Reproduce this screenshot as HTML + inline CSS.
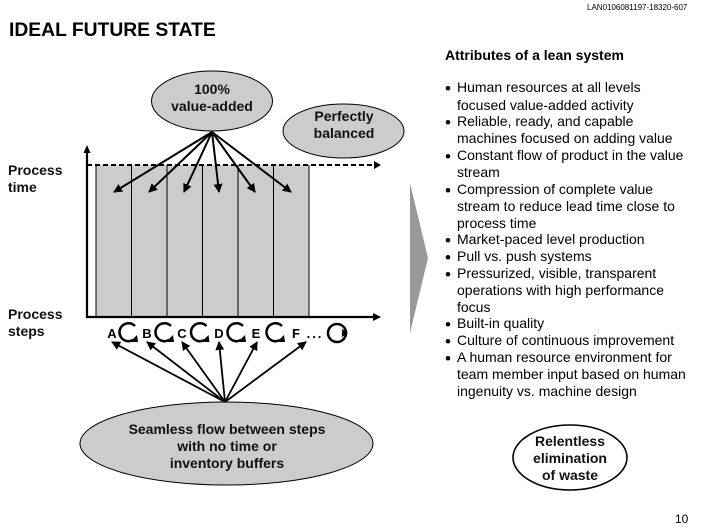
<!DOCTYPE html>
<html>
<head>
<meta charset="utf-8">
<style>
html,body{margin:0;padding:0;background:#fff}
svg{display:block}
text{font-family:"Liberation Sans",Arial,sans-serif;fill:#000}
.b{font-size:14px}
.d{font-size:17px}
.p{font-size:14px;font-weight:bold;fill:#111}
.h{font-size:14px;font-weight:bold}
.l{font-size:14px;font-weight:bold;text-anchor:middle;fill:#111}
.s{font-size:13px;font-weight:bold;text-anchor:middle}
</style>
</head>
<body>
<svg width="706" height="529" viewBox="0 0 706 529" xmlns="http://www.w3.org/2000/svg">
<defs>
<marker id="ar" markerWidth="9" markerHeight="9" refX="8" refY="4.5" orient="auto" markerUnits="userSpaceOnUse"><path d="M0 0L9 4.5L0 9Z"/></marker>
</defs>
<text x="587" y="10" style="font-size:8px">LAN0106081197-18320-607</text>
<text x="9" y="36" style="font-size:19.3px;font-weight:bold">IDEAL FUTURE STATE</text>
<text x="445" y="60" class="h">Attributes of a lean system</text>

<rect x="96" y="165" width="213" height="151" fill="#ccc"/>
<g stroke="#000" stroke-width="1">
<line x1="96" y1="165" x2="96" y2="316"/>
<line x1="131.5" y1="165" x2="131.5" y2="316"/>
<line x1="167" y1="165" x2="167" y2="316"/>
<line x1="202.5" y1="165" x2="202.5" y2="316"/>
<line x1="238" y1="165" x2="238" y2="316"/>
<line x1="273.5" y1="165" x2="273.5" y2="316"/>
<line x1="309" y1="165" x2="309" y2="316"/>
</g>
<line x1="87" y1="318" x2="87" y2="150" stroke="#000" stroke-width="2.200"/>
<path d="M83.500 153L87 145L90.500 153Z"/>
<line x1="86" y1="317" x2="375" y2="317" stroke="#000" stroke-width="2.200"/>
<path d="M373 313L381 317L373 321Z"/>
<line x1="87" y1="165" x2="375" y2="165" stroke="#000" stroke-width="2" stroke-dasharray="5 3"/>
<path d="M374 161L381 165L374 169Z"/>

<ellipse cx="212" cy="101" rx="60.500" ry="30" fill="#ccc" stroke="#000"/>
<ellipse cx="343.500" cy="131" rx="60.500" ry="27" fill="#ccc" stroke="#000"/>
<text x="212" y="94" class="l">100%</text>
<text x="212" y="111" class="l">value-added</text>
<text x="344" y="121" class="l">Perfectly</text>
<text x="344" y="138" class="l">balanced</text>

<text x="8" y="175" class="p">Process</text>
<text x="8" y="192" class="p">time</text>
<text x="8" y="319" class="p">Process</text>
<text x="8" y="336" class="p">steps</text>

<g stroke="#000" stroke-width="2" marker-end="url(#ar)">
<line x1="212" y1="132" x2="114" y2="192"/>
<line x1="212" y1="132" x2="149" y2="192"/>
<line x1="212" y1="132" x2="184" y2="192"/>
<line x1="212" y1="132" x2="219" y2="192"/>
<line x1="212" y1="132" x2="255" y2="192"/>
<line x1="212" y1="132" x2="291" y2="192"/>
</g>

<text x="112" y="338" class="s">A</text>
<text x="147" y="338" class="s">B</text>
<text x="182" y="338" class="s">C</text>
<text x="219" y="338" class="s">D</text>
<text x="256" y="338" class="s">E</text>
<text x="296" y="338" class="s">F</text>
<text x="315" y="338" class="s" style="letter-spacing:2px">...</text>

<g fill="none" stroke="#000" stroke-width="2.500">
<path d="M135 326A9 9 0 1 0 133 340"/>
<path d="M171 326A9 9 0 1 0 169 340"/>
<path d="M206.500 326A9 9 0 1 0 204.500 340"/>
<path d="M243 326A9 9 0 1 0 241 340"/>
<path d="M282 326A9 9 0 1 0 280 340"/>
<circle cx="337" cy="333" r="9"/>
</g>
<path d="M130 342L137 335L138 342Z"/>
<path d="M166 342L173 335L174 342Z"/>
<path d="M201.500 342L208.500 335L209.500 342Z"/>
<path d="M238 342L245 335L246 342Z"/>
<path d="M277 342L284 335L285 342Z"/>
<path d="M342 329L348 333L342 337Z"/>

<ellipse cx="226.500" cy="443.500" rx="146.500" ry="41.500" fill="#ccc" stroke="#000"/>
<g stroke="#000" stroke-width="1.800" marker-end="url(#ar)">
<line x1="225" y1="402" x2="112" y2="342"/>
<line x1="225" y1="402" x2="147" y2="342"/>
<line x1="225" y1="402" x2="182" y2="342"/>
<line x1="225" y1="402" x2="219" y2="342"/>
<line x1="225" y1="402" x2="257" y2="342"/>
<line x1="225" y1="402" x2="306" y2="342"/>
</g>
<text x="227" y="434" class="l">Seamless flow between steps</text>
<text x="227" y="451" class="l">with no time or</text>
<text x="227" y="468" class="l">inventory buffers</text>

<path d="M410 183L428 258L410 333Z" fill="#999"/>

<text x="445" y="94" class="d">•</text><text x="457" y="92" class="b">Human resources at all levels</text>
<text x="457" y="110" class="b">focused value-added activity</text>
<text x="445" y="128" class="d">•</text><text x="457" y="126" class="b">Reliable, ready, and capable</text>
<text x="457" y="143" class="b">machines focused on adding value</text>
<text x="445" y="162" class="d">•</text><text x="457" y="160" class="b">Constant flow of product in the value</text>
<text x="457" y="177" class="b">stream</text>
<text x="445" y="196" class="d">•</text><text x="457" y="194" class="b">Compression of complete value</text>
<text x="457" y="211" class="b">stream to reduce lead time close to</text>
<text x="457" y="228" class="b">process time</text>
<text x="445" y="246" class="d">•</text><text x="457" y="244" class="b">Market-paced level production</text>
<text x="445" y="263" class="d">•</text><text x="457" y="261" class="b">Pull vs. push systems</text>
<text x="445" y="280" class="d">•</text><text x="457" y="278" class="b">Pressurized, visible, transparent</text>
<text x="457" y="295" class="b">operations with high performance</text>
<text x="457" y="312" class="b">focus</text>
<text x="445" y="330" class="d">•</text><text x="457" y="328" class="b">Built-in quality</text>
<text x="445" y="347" class="d">•</text><text x="457" y="345" class="b">Culture of continuous improvement</text>
<text x="445" y="364" class="d">•</text><text x="457" y="362" class="b">A human resource environment for</text>
<text x="457" y="379" class="b">team member input based on human</text>
<text x="457" y="396" class="b">ingenuity vs. machine design</text>

<ellipse cx="570" cy="457.500" rx="57" ry="32.500" fill="#fff" stroke="#000" stroke-width="1.600"/>
<text x="570" y="446" class="l">Relentless</text>
<text x="570" y="463" class="l">elimination</text>
<text x="570" y="480" class="l">of waste</text>
<text x="675" y="523" style="font-size:12px">10</text>
</svg>
</body>
</html>
